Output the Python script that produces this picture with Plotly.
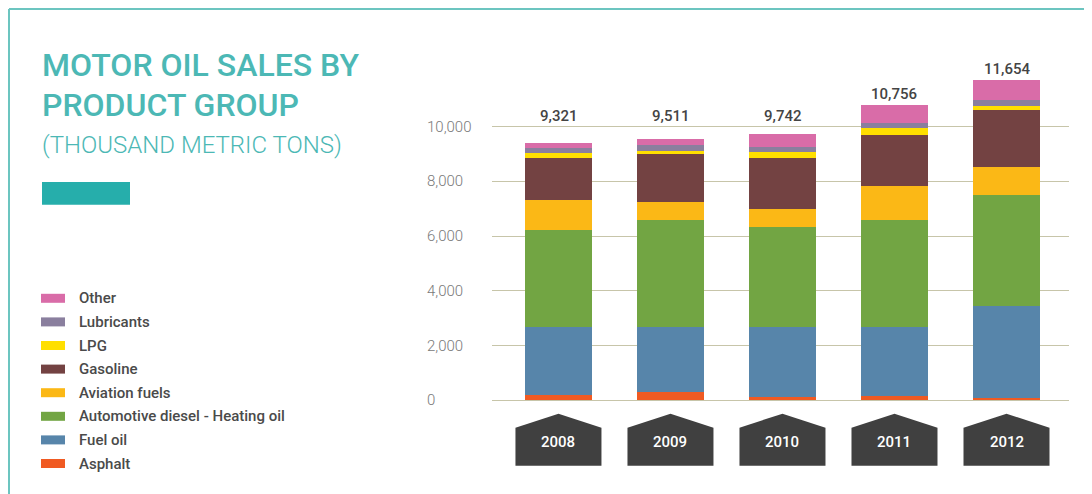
import plotly.graph_objects as go

W, H = 1092, 494
OFF = 8  # the page body margin pushes the figure 8px right and down

years = ["2008", "2009", "2010", "2011", "2012"]
totals = [9321, 9511, 9742, 10756, 11654]

# stacked from the bottom up (thousand metric tons)
asphalt = [190, 320, 120, 170, 100]
fuel_oil = [2490, 2360, 2550, 2510, 3350]
diesel = [3540, 3910, 3650, 3900, 4050]
aviation = [1100, 660, 690, 1240, 1020]
gasoline = [1530, 1750, 1830, 1860, 2080]
lpg = [180, 110, 250, 260, 150]
lubricants = [180, 220, 180, 180, 220]
other = [180, 220, 470, 660, 730]

series_names = ["Asphalt", "Fuel oil", "Automotive diesel - Heating oil", "Aviation fuels",
                "Gasoline", "LPG", "Lubricants", "Other"]
series_values = [asphalt, fuel_oil, diesel, aviation, gasoline, lpg, lubricants, other]
colors = ["#f05a22", "#5785aa", "#72a543", "#fbb816", "#734242", "#ffdf00", "#8a7f9e", "#d96ca8"]

y_ticks = [0, 2000, 4000, 6000, 8000, 10000]

TEAL = "#4cb8b5"
GRID = "#c7c5a9"
PX_PER_UNIT = 0.02736  # 10,000 tons = 273.6 px
ZERO_PX = 400.3 - OFF

fig = go.Figure()
for name, vals, col in zip(series_names, series_values, colors):
    fig.add_trace(go.Bar(x=years, y=vals, name=name, marker=dict(color=col, line=dict(width=0)),
                         width=0.6, showlegend=False))

# page px -> paper coords (margins are zero)
def px_x(p):
    return (p - OFF) / W

def px_y(p):
    return 1 - (p - OFF) / H

annotations = []
shapes = []

# y tick labels, left aligned like the original
for t in y_ticks:
    annotations.append(dict(x=px_x(425), xref="paper", y=t, yref="y", text=f"{t:,}",
                            showarrow=False, xanchor="left", yanchor="middle",
                            font=dict(family="Roboto", size=15, color="#7a7a7a", weight=300)))

# totals above the bars
for i, tot in enumerate(totals):
    stack = sum(v[i] for v in series_values)
    annotations.append(dict(x=i, xref="x", y=max(stack, 10000), yref="y", text=f"{tot:,}",
                            showarrow=False, yanchor="middle", yshift=11,
                            font=dict(family="Roboto", size=15, color="#444444", weight=500)))

# house shaped year tabs
for i, yr in enumerate(years):
    shapes.append(dict(type="path", xref="x", yref="y", xsizemode="pixel", ysizemode="pixel",
                       xanchor=i, yanchor=0,
                       path="M-43,-65.4 L-43,-27.4 L0,-13.4 L43,-27.4 L43,-65.4 Z",
                       fillcolor="#404040", line=dict(width=0), layer="above"))
    annotations.append(dict(x=i, xref="x", y=0, yref="y", text=yr, showarrow=False,
                            yanchor="middle", yshift=-42,
                            font=dict(family="Roboto", size=15, color="white", weight=500)))

# legend drawn by hand (top item = Other)
for k, (name, col) in enumerate(zip(series_names[::-1], colors[::-1])):
    cy = 298.3 + k * 23.6
    shapes.append(dict(type="rect", xref="paper", yref="paper",
                       x0=px_x(41), x1=px_x(65), y0=px_y(cy - 4.5), y1=px_y(cy + 4.5),
                       fillcolor=col, line=dict(width=0)))
    annotations.append(dict(x=px_x(77), y=px_y(cy), xref="paper", yref="paper", text=name,
                            showarrow=False, xanchor="left", yanchor="middle",
                            font=dict(family="Roboto", size=15, color="#4a4a4a", weight=500)))

# title block
for txt, cy in [("MOTOR OIL SALES BY", 65.5), ("PRODUCT GROUP", 105)]:
    annotations.append(dict(x=px_x(40), y=px_y(cy), xref="paper", yref="paper", text=txt,
                            showarrow=False, xanchor="left", yanchor="middle",
                            font=dict(family="Roboto", size=32, color=TEAL, weight=500)))
annotations.append(dict(x=px_x(40), y=px_y(145), xref="paper", yref="paper", text="(THOUSAND METRIC TONS)",
                        showarrow=False, xanchor="left", yanchor="middle",
                        font=dict(family="Roboto", size=24, color=TEAL, weight=300)))
shapes.append(dict(type="rect", xref="paper", yref="paper", x0=px_x(42), x1=px_x(130),
                   y0=px_y(182), y1=px_y(204.7), fillcolor="#26aeab", line=dict(width=0)))

# frame lines
shapes.append(dict(type="line", xref="paper", yref="paper", x0=px_x(9), x1=1, y0=px_y(9), y1=px_y(9),
                   line=dict(color="#6cc5c0", width=2)))
shapes.append(dict(type="line", xref="paper", yref="paper", x0=px_x(9), x1=px_x(9), y0=px_y(9), y1=0,
                   line=dict(color="#6cc5c0", width=2)))

fig.update_layout(
    barmode="stack",
    width=W, height=H,
    margin=dict(l=0, r=0, t=0, b=0),
    plot_bgcolor="white", paper_bgcolor="white",
    annotations=annotations, shapes=shapes,
    xaxis=dict(type="category", domain=[(491.7 - OFF) / W, (1069 - OFF) / W], range=[-0.596, 4.558],
               showticklabels=False, showgrid=False, zeroline=False, showline=False, fixedrange=True),
    yaxis=dict(domain=[0, 1], range=[-(H - ZERO_PX) / PX_PER_UNIT, ZERO_PX / PX_PER_UNIT], tickvals=y_ticks,
               showticklabels=False, showgrid=True, gridcolor=GRID, gridwidth=1.2,
               zeroline=False, showline=False, fixedrange=True),
    showlegend=False,
)

fig.write_html("out.html")
